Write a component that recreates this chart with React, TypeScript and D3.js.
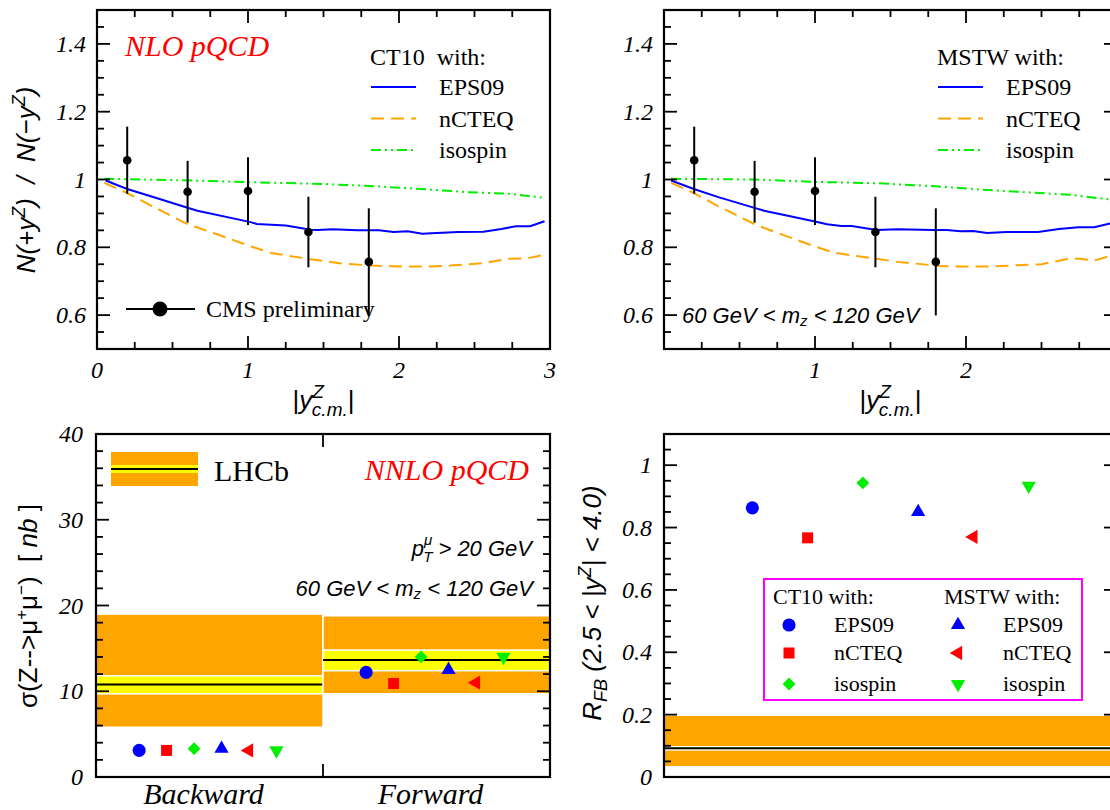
import React from 'react';
import * as d3 from 'd3';

const W = 1110;
const H = 810;
const SERIF = '"Liberation Serif", "DejaVu Serif", serif';
const SANS = '"Liberation Sans", "DejaVu Sans", sans-serif';

// CMS preliminary, N(+y)/N(-y)
const cmsY = [0.2, 0.6, 1.0, 1.4, 1.8];
const cmsRatio = [1.057, 0.964, 0.966, 0.845, 0.757];
const cmsErr = [0.099, 0.091, 0.1, 0.104, 0.158];

// NLO curves, [|y|, ratio]
const ct10Eps09: [number, number][] = [
  [0.057, 0.997], [0.2, 0.972], [0.367, 0.949], [0.605, 0.916], [0.665, 0.908],
  [1.01, 0.875], [1.058, 0.869], [1.25, 0.864], [1.415, 0.852], [1.463, 0.851],
  [1.558, 0.853], [1.725, 0.85], [1.868, 0.85], [1.963, 0.845], [2.058, 0.847],
  [2.154, 0.84], [2.249, 0.842], [2.392, 0.845], [2.559, 0.846], [2.678, 0.854],
  [2.773, 0.862], [2.868, 0.862], [2.964, 0.877],
];
const ct10Ncteq: [number, number][] = [
  [0.048, 0.99], [0.2, 0.96], [0.367, 0.921], [0.605, 0.867], [0.772, 0.842],
  [1.01, 0.804], [1.153, 0.783], [1.415, 0.765], [1.606, 0.753], [1.82, 0.746],
  [1.963, 0.744], [2.154, 0.743], [2.344, 0.746], [2.559, 0.753], [2.726, 0.766],
  [2.845, 0.767], [2.964, 0.778],
];
const ct10Isospin: [number, number][] = [
  [0.048, 1.002], [0.534, 0.998], [1.01, 0.992], [1.487, 0.987], [1.844, 0.98],
  [2.154, 0.972], [2.44, 0.963], [2.726, 0.958], [2.964, 0.946],
];
const mstwEps09: [number, number][] = [
  [0.047, 0.997], [0.198, 0.972], [0.36, 0.948], [0.616, 0.914], [0.663, 0.908],
  [1.0, 0.876], [1.08, 0.868], [1.174, 0.863], [1.244, 0.863], [1.407, 0.851],
  [1.547, 0.853], [1.779, 0.851], [1.872, 0.851], [1.965, 0.847], [2.047, 0.848],
  [2.14, 0.842], [2.267, 0.845], [2.477, 0.845], [2.616, 0.854], [2.744, 0.859],
  [2.849, 0.859], [2.94, 0.869], [3.0, 0.874],
];
const mstwNcteq: [number, number][] = [
  [0.047, 0.99], [0.198, 0.96], [0.36, 0.921], [0.616, 0.865], [0.988, 0.804],
  [1.128, 0.784], [1.407, 0.766], [1.547, 0.757], [1.826, 0.745], [1.988, 0.743],
  [2.151, 0.743], [2.291, 0.746], [2.5, 0.75], [2.663, 0.765], [2.744, 0.767],
  [2.849, 0.761], [2.953, 0.774], [3.0, 0.779],
];
const mstwIsospin: [number, number][] = [
  [0.047, 1.002], [0.593, 1.0], [1.0, 0.993], [1.407, 0.989], [1.802, 0.98],
  [2.105, 0.97], [2.407, 0.962], [2.686, 0.955], [2.953, 0.941], [3.0, 0.939],
];

// LHCb sigma(Z->mumu) [nb]
const lhcbBins = ['Backward', 'Forward'];
const lhcbCentral = [10.8, 13.65];
const lhcbStatLo = [9.7, 12.4];
const lhcbStatHi = [11.8, 14.8];
const lhcbTotLo = [5.8, 9.7];
const lhcbTotHi = [19.0, 18.8];

// NNLO predictions
const models = ['CT10 EPS09', 'CT10 nCTEQ', 'CT10 isospin', 'MSTW EPS09', 'MSTW nCTEQ', 'MSTW isospin'];
const sigmaBackward = [3.1, 3.1, 3.3, 3.3, 3.1, 3.1];
const sigmaForward = [12.2, 10.9, 14.0, 12.5, 11.0, 14.0];
const rfbModels = [0.863, 0.767, 0.943, 0.85, 0.77, 0.934];

// LHCb R_FB
const rfbCentral = 0.092;
const rfbStat = [0.087, 0.097];
const rfbTot = [0.035, 0.196];

const markers = [
  { type: d3.symbolCircle, size: 135, rot: 0, color: '#0000ff' },
  { type: d3.symbolSquare, size: 121, rot: 0, color: '#ff0000' },
  { type: d3.symbolSquare, size: 82, rot: 45, color: '#00ee00' },
  { type: d3.symbolTriangle, size: 88, rot: 0, color: '#0000ff' },
  { type: d3.symbolTriangle, size: 88, rot: -90, color: '#ff0000' },
  { type: d3.symbolTriangle, size: 88, rot: 180, color: '#00ee00' },
];

const Marker = ({ i, x, y }: { i: number; x: number; y: number }) => {
  const m = markers[i];
  const d = d3.symbol().type(m.type).size(m.size)() as string;
  return <path d={d} transform={`translate(${x},${y}) rotate(${m.rot})`} fill={m.color} />;
};

const yTicks = (scale: d3.ScaleLinear<number, number>, vals: number[], x: number, len: number) =>
  vals.map((v, i) => (
    <line key={'y' + x + i} x1={x} x2={x + len} y1={scale(v)} y2={scale(v)} stroke="#000" strokeWidth={1.8} />
  ));
const xTicks = (scale: (v: any) => number, vals: any[], y: number, len: number) =>
  vals.map((v, i) => (
    <line key={'x' + y + i} x1={scale(v)} x2={scale(v)} y1={y} y2={y + len} stroke="#000" strokeWidth={1.8} />
  ));

const near = (a: number, b: number) => Math.abs(a - b) < 1e-6;
const majorMinor = (lo: number, hi: number, minor: number, major: number) => {
  const all = d3.range(lo, hi + minor / 2, minor).map((v) => +v.toFixed(4));
  const maj = all.filter((v) => near(v / major, Math.round(v / major)));
  const min = all.filter((v) => !near(v / major, Math.round(v / major)));
  return { maj, min };
};

const curveStyles = [
  { color: '#0000ff', dash: undefined as string | undefined, name: 'EPS09' },
  { color: '#ffa500', dash: '13,7', name: 'nCTEQ' },
  { color: '#00ee00', dash: '10,4,2,4,2,4', name: 'isospin' },
];

const XTitle = ({ cx }: { cx: number }) => (
  <text x={cx} y={409} fontFamily={SANS} fontSize={26} fontStyle="italic" textAnchor="middle">
    <tspan fontStyle="normal">|</tspan>
    <tspan>y</tspan>
    <tspan fontSize={19} dy={-11}>Z</tspan>
    <tspan fontSize={19} dx={-12} dy={18}>c.m.</tspan>
    <tspan fontStyle="normal" dy={-7}>|</tspan>
  </text>
);

const TopPanel = ({ left, curves, title, xLabels, rightTicks, children }: any) => {
  const top = 10;
  const bottom = 349;
  const right = left + 453;
  const x = d3.scaleLinear().domain([0, 3]).range([left, right]);
  const y = d3.scaleLinear().domain([0.5, 1.5]).range([bottom, top]);
  const xt = majorMinor(0, 3, 0.25, 1);
  const yt = majorMinor(0.5, 1.5, 0.05, 0.2);
  const line = d3.line<[number, number]>().x((d) => x(d[0])).y((d) => y(d[1]));
  const lx = left + 274;
  return (
    <g>
      {curves.map((c: [number, number][], i: number) => (
        <path key={i} d={line(c) as string} fill="none" stroke={curveStyles[i].color}
          strokeWidth={2} strokeDasharray={curveStyles[i].dash} />
      ))}
      {cmsY.map((v, i) => (
        <g key={i}>
          <line x1={x(v)} x2={x(v)} y1={y(cmsRatio[i] + cmsErr[i])} y2={y(cmsRatio[i] - cmsErr[i])}
            stroke="#000" strokeWidth={2} />
          <circle cx={x(v)} cy={y(cmsRatio[i])} r={4.3} fill="#000" />
        </g>
      ))}
      <rect x={left} y={top} width={right - left} height={bottom - top} fill="none" stroke="#000" strokeWidth={2.2} />
      {xTicks(x, xt.maj, bottom, -13)}
      {xTicks(x, xt.min, bottom, -7)}
      {xTicks(x, xt.maj, top, 13)}
      {xTicks(x, xt.min, top, 7)}
      {yTicks(y, yt.maj, left, 13)}
      {yTicks(y, yt.min, left, 7)}
      {rightTicks && yTicks(y, yt.maj, right, -13)}
      {rightTicks && yTicks(y, yt.min, right, -7)}
      {yt.maj.filter((v) => v > 0.55 && v < 1.45).map((v) => (
        <text key={v} x={left - 11} y={y(v) + 8} textAnchor="end" fontFamily={SERIF} fontStyle="italic" fontSize={24}>
          {String(v)}
        </text>
      ))}
      {xLabels.map((v: number) => (
        <text key={v} x={x(v)} y={378} textAnchor="middle" fontFamily={SERIF} fontStyle="italic" fontSize={24}>
          {String(v)}
        </text>
      ))}
      <XTitle cx={(left + right) / 2} />
      <text x={lx - 1} y={65} fontFamily={SERIF} fontSize={24} style={{ whiteSpace: 'pre' }}>{title}</text>
      {curveStyles.map((c, i) => {
        const ly = 87 + i * 31.5;
        return (
          <g key={c.name}>
            <line x1={lx} x2={lx + 45} y1={ly} y2={ly} stroke={c.color} strokeWidth={2} strokeDasharray={c.dash} />
            <text x={lx + 68} y={ly + 8} fontFamily={SERIF} fontSize={24}>{c.name}</text>
          </g>
        );
      })}
      {children}
    </g>
  );
};

const BottomLeft = () => {
  const left = 96;
  const right = 550;
  const top = 434;
  const bottom = 777;
  const x = d3.scaleBand().domain(lhcbBins).range([left, right]);
  const y = d3.scaleLinear().domain([0, 40]).range([bottom, top]);
  const bw = x.bandwidth();
  const yt = majorMinor(0, 40, 2, 10);
  const modelVals = [sigmaBackward, sigmaForward];
  return (
    <g>
      {lhcbBins.map((b, i) => {
        const x0 = x(b) as number;
        return (
          <g key={b}>
            <rect x={x0} y={y(lhcbTotHi[i])} width={bw} height={y(lhcbTotLo[i]) - y(lhcbTotHi[i])}
              fill="#ffa500" stroke="#fff" strokeWidth={1.5} />
            <rect x={x0} y={y(lhcbStatHi[i])} width={bw} height={y(lhcbStatLo[i]) - y(lhcbStatHi[i])}
              fill="#ffff00" stroke="#fff" strokeWidth={1.5} />
            <line x1={x0} x2={x0 + bw} y1={y(lhcbCentral[i])} y2={y(lhcbCentral[i])} stroke="#000" strokeWidth={2} />
          </g>
        );
      })}
      {lhcbBins.map((b, bi) => {
        const inner = d3.scalePoint().domain(models).range([(x(b) as number) + 0.19 * bw, (x(b) as number) + 0.795 * bw]);
        return models.map((m, i) => (
          <Marker key={b + m} i={i} x={inner(m) as number} y={y(modelVals[bi][i])} />
        ));
      })}
      <rect x={left} y={top} width={right - left} height={bottom - top} fill="none" stroke="#000" strokeWidth={2.2} />
      {yTicks(y, yt.maj, left, 13)}
      {yTicks(y, yt.min, left, 7)}
      {yTicks(y, yt.maj, right, -13)}
      {yTicks(y, yt.min, right, -7)}
      <line x1={left + bw} x2={left + bw} y1={top} y2={top + 13} stroke="#000" strokeWidth={1.8} />
      <line x1={left + bw} x2={left + bw} y1={bottom} y2={bottom - 13} stroke="#000" strokeWidth={1.8} />
      {yt.maj.map((v) => (
        <text key={v} x={left - 13} y={y(v) + 8} textAnchor="end" fontFamily={SERIF} fontStyle="italic" fontSize={24}>
          {String(v)}
        </text>
      ))}
      {lhcbBins.map((b) => (
        <text key={b} x={(x(b) as number) + bw / 2 - 6} y={804} textAnchor="middle" fontFamily={SERIF}
          fontStyle="italic" fontSize={30}>{b}</text>
      ))}
      {/* legend */}
      <rect x={111} y={452} width={87} height={34} fill="#ffa500" />
      <rect x={111} y={465} width={87} height={8} fill="#ffff00" />
      <line x1={111} x2={198} y1={469} y2={469} stroke="#000" strokeWidth={2} />
      <text x={214} y={481} fontFamily={SERIF} fontSize={30}>LHCb</text>
      <text x={529} y={480} textAnchor="end" fontFamily={SERIF} fontStyle="italic" fontSize={30} fill="#ff0000">NNLO pQCD</text>
      <text x={532} y={556} textAnchor="end" fontFamily={SANS} fontStyle="italic" fontSize={22}>
        <tspan>p</tspan>
        <tspan fontSize={15} dy={-11}>μ</tspan>
        <tspan fontSize={15} dx={-9} dy={17}>T</tspan>
        <tspan dx={6} dy={-6}>{'> 20 GeV'}</tspan>
      </text>
      <text x={533} y={596} textAnchor="end" fontFamily={SANS} fontStyle="italic" fontSize={22}>
        <tspan>{'60 GeV < m'}</tspan>
        <tspan fontSize={15} dy={3}>z</tspan>
        <tspan dy={-3}>{' < 120 GeV'}</tspan>
      </text>
      <text transform="translate(37,606) rotate(-90)" textAnchor="middle" fontFamily={SANS} fontSize={26}>
        <tspan>σ(Z--&gt;μ</tspan>
        <tspan fontSize={17} dy={-10}>+</tspan>
        <tspan dy={10}>μ</tspan>
        <tspan fontSize={17} dy={-10}>−</tspan>
        <tspan dy={10} style={{ whiteSpace: 'pre' }}>{')  [ '}</tspan>
        <tspan fontStyle="italic">nb</tspan>
        <tspan>{' ]'}</tspan>
      </text>
    </g>
  );
};

const BottomRight = () => {
  const left = 664;
  const right = 1117;
  const top = 434;
  const bottom = 777;
  const y = d3.scaleLinear().domain([0, 1.1]).range([bottom, top]);
  const band = d3.scaleBand().domain(['LHCb']).range([left, right]);
  const bw = band.bandwidth();
  const inner = d3.scalePoint().domain(models).range([left + 0.195 * bw, left + 0.805 * bw]);
  const yt = majorMinor(0, 1.1, 0.05, 0.2);
  const colX = [789, 958];
  const rowY = [625, 653, 684];
  const rowNames = ['EPS09', 'nCTEQ', 'isospin'];
  return (
    <g>
      <rect x={left} y={y(rfbTot[1])} width={bw} height={y(rfbTot[0]) - y(rfbTot[1])} fill="#ffa500" />
      <rect x={left} y={y(rfbStat[1])} width={bw} height={y(rfbStat[0]) - y(rfbStat[1])}
        fill="#ffff00" stroke="#fff" strokeWidth={1.5} />
      <line x1={left} x2={right} y1={y(rfbCentral)} y2={y(rfbCentral)} stroke="#000" strokeWidth={2} />
      {models.map((m, i) => (
        <Marker key={m} i={i} x={inner(m) as number} y={y(rfbModels[i])} />
      ))}
      <rect x={left} y={top} width={right - left} height={bottom - top} fill="none" stroke="#000" strokeWidth={2.2} />
      {yTicks(y, yt.maj, left, 13)}
      {yTicks(y, yt.min, left, 7)}
      {yTicks(y, yt.maj, right, -13)}
      {yTicks(y, yt.min, right, -7)}
      {yt.maj.map((v) => (
        <text key={v} x={left - 12} y={y(v) + 8} textAnchor="end" fontFamily={SERIF} fontStyle="italic" fontSize={24}>
          {String(v)}
        </text>
      ))}
      <rect x={764} y={579} width={318} height={121} fill="#fff" stroke="#ff00ff" strokeWidth={2} />
      <text x={773} y={604} fontFamily={SERIF} fontSize={22}>CT10 with:</text>
      <text x={944} y={604} fontFamily={SERIF} fontSize={22}>MSTW with:</text>
      {models.map((m, i) => {
        const col = Math.floor(i / 3);
        const row = i % 3;
        return (
          <g key={m}>
            <Marker i={i} x={colX[col]} y={rowY[row]} />
            <text x={colX[col] + 45} y={rowY[row] + 7} fontFamily={SERIF} fontSize={22}>{rowNames[row]}</text>
          </g>
        );
      })}
      <text transform="translate(601,603) rotate(-90)" textAnchor="middle" fontFamily={SANS} fontStyle="italic" fontSize={26}>
        <tspan>R</tspan>
        <tspan fontSize={18} dy={6}>FB</tspan>
        <tspan dy={-6} style={{ whiteSpace: 'pre' }}>{' (2.5 < |y'}</tspan>
        <tspan fontSize={18} dy={-10}>Z</tspan>
        <tspan dy={10} style={{ whiteSpace: 'pre' }}>{'| < 4.0)'}</tspan>
      </text>
    </g>
  );
};

export default function App() {
  return (
    <svg width={W} height={H} viewBox={`0 0 ${W} ${H}`}
      style={{ position: 'absolute', left: 0, top: 0, background: '#fff' }}>
      <rect width={W} height={H} fill="#fff" />
      <TopPanel left={97} curves={[ct10Eps09, ct10Ncteq, ct10Isospin]} title={'CT10  with:'} xLabels={[0, 1, 2, 3]} rightTicks={false}>
        <text x={125} y={56} fontFamily={SERIF} fontStyle="italic" fontSize={30} fill="#ff0000">NLO pQCD</text>
        <line x1={126} x2={195} y1={309} y2={309} stroke="#000" strokeWidth={2} />
        <circle cx={160} cy={309} r={7.5} fill="#000" />
        <text x={206} y={317} fontFamily={SERIF} fontSize={24}>CMS preliminary</text>
        <text transform="translate(35,180) rotate(-90)" textAnchor="middle" fontFamily={SANS} fontStyle="italic" fontSize={26}>
          <tspan>N(+y</tspan>
          <tspan fontSize={18} dy={-10}>Z</tspan>
          <tspan dy={10} style={{ whiteSpace: 'pre' }}>{')  /  N(−y'}</tspan>
          <tspan fontSize={18} dy={-10}>Z</tspan>
          <tspan dy={10}>)</tspan>
        </text>
      </TopPanel>
      <TopPanel left={664} curves={[mstwEps09, mstwNcteq, mstwIsospin]} title={'MSTW with:'} xLabels={[1, 2, 3]} rightTicks={true}>
        <text x={682} y={323} fontFamily={SANS} fontStyle="italic" fontSize={22}>
          <tspan>{'60 GeV < m'}</tspan>
          <tspan fontSize={15} dy={3}>z</tspan>
          <tspan dy={-3}>{' < 120 GeV'}</tspan>
        </text>
      </TopPanel>
      <BottomLeft />
      <BottomRight />
    </svg>
  );
}
